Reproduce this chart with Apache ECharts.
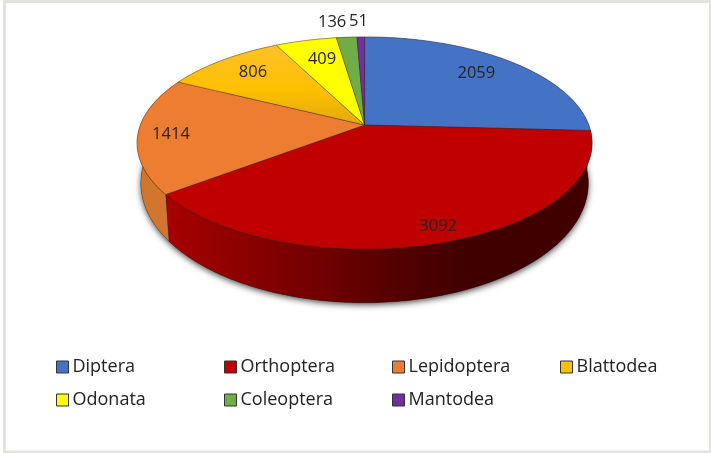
<!DOCTYPE html>
<html>
<head>
<meta charset="utf-8">
<style>
  html, body { margin: 0; padding: 0; background: #fff; }
  #main { width: 711px; height: 453px; }
</style>
</head>
<body>
<div id="main"></div>
<script src="https://cdn.jsdelivr.net/npm/echarts@6/dist/echarts.min.js"></script>
<script>
const categories = ["Diptera", "Orthoptera", "Lepidoptera", "Blattodea", "Odonata", "Coleoptera", "Mantodea"];
const counts = [2059, 3092, 1414, 806, 409, 136, 51];

const colors = ["#4472c4", "#c00000", "#ed7d31", "#ffc000", "#ffff00", "#70ad47", "#7030a0"];
// legend is laid out in 4 columns, each one its own legend
const legendColumns = [[0, 4], [1, 5], [2, 6], [3]];
const legendLeft = [56, 224, 392, 560];
// label placement: radius factor and angle shift from the slice middle
const labelRadius = [0.77, 0.89, 0.855, 0.78, 0.75, 1.21, 1.21];
const labelShift = [-1.5, -1.3, -0.9, 0.8, 1.2, -2.9, -0.4];

const total = counts.reduce((a, b) => a + b, 0);
const cx = 364.6, topY = 125, bottomY = 163;
const rx = 224.2, rxBottom = 220.5, ryTop = 103, ryBottom = 116, persp = 0.17;

// pie plane -> screen, front of the pie is closer so it gets bigger
function project(r, deg, lower) {
  const a = deg * Math.PI / 180;
  const u = r * Math.sin(a), v = -r * Math.cos(a);
  const d = 1 - persp * v;
  return [
    cx + (lower ? rxBottom : rx) * u / d,
    (lower ? bottomY : topY) + (lower ? ryBottom : ryTop) * v / d
  ];
}

function arc(start, end, lower) {
  const pts = [];
  const n = Math.max(2, Math.ceil(end - start));
  for (let i = 0; i <= n; i++) {
    pts.push(project(1, start + (end - start) * i / n, lower));
  }
  return pts;
}

function topFill(i) {
  if (i === 3) {
    return new echarts.graphic.LinearGradient(0, 0, 0, 1, [
      { offset: 0, color: "#fdc12a" },
      { offset: 0.55, color: "#ffc000" },
      { offset: 1, color: "#e2a90e" }
    ]);
  }
  return colors[i];
}

function wallFill(i) {
  if (i === 1) {
    return new echarts.graphic.LinearGradient(0, 0, 1, 0, [
      { offset: 0, color: "#a80000" },
      { offset: 0.25, color: "#820000" },
      { offset: 0.6, color: "#4c0000" },
      { offset: 0.72, color: "#400000" },
      { offset: 1, color: "#400000" }
    ]);
  }
  if (i === 2) return "#d2752f";
  return echarts.color.lift(colors[i], -0.3);
}

function renderSlice(i) {
  return function (params, api) {
    const value = api.value(0);
    const before = counts.slice(0, i).reduce((a, b) => a + b, 0);
    const start = before / total * 360;
    const end = start + value / total * 360;
    const topArc = arc(start, end, false);
    const lowArc = arc(start, end, true).reverse();
    const mid = (start + end) / 2 + labelShift[i];
    const spot = project(labelRadius[i], mid, false);
    return {
      type: "group",
      children: [
        {
          type: "polygon",
          z2: 1,
          shape: { points: topArc.concat(lowArc) },
          style: { fill: wallFill(i), stroke: "rgba(40,20,10,0.55)", lineWidth: 0.5 }
        },
        {
          type: "polygon",
          z2: 2,
          shape: { points: [project(0, 0, false)].concat(topArc) },
          style: { fill: topFill(i), stroke: "rgba(50,30,10,0.6)", lineWidth: 0.6 }
        },
        {
          type: "text",
          z2: 3,
          x: spot[0],
          y: spot[1],
          style: {
            text: String(value),
            font: "16.5px 'Open Sans'",
            fill: "#2a2222",
            align: "center",
            verticalAlign: "middle"
          }
        }
      ]
    };
  };
}

const sliceSeries = categories.map((name, i) => ({
  name: name,
  type: "custom",
  coordinateSystem: "none",
  silent: true,
  z: 3,
  itemStyle: { color: colors[i] },
  data: [[counts[i]]],
  renderItem: renderSlice(i)
}));

// soft shadow under the whole pie
const shadowSeries = {
  name: "shadow",
  type: "custom",
  coordinateSystem: "none",
  silent: true,
  z: 2,
  data: [[total]],
  renderItem: function () {
    return {
      type: "polygon",
      shape: { points: arc(0, 360, true) },
      style: {
        fill: "#444",
        shadowColor: "rgba(0,0,0,0.7)",
        shadowBlur: 6,
        shadowOffsetX: 0,
        shadowOffsetY: 2
      }
    };
  }
};

const legends = legendColumns.map((col, c) => ({
  orient: "vertical",
  left: legendLeft[c],
  top: 358,
  padding: 0,
  align: "left",
  icon: "rect",
  itemWidth: 12,
  itemHeight: 12,
  itemGap: 15,
  selectedMode: false,
  textStyle: { fontFamily: "Open Sans", fontSize: 18, color: "#222", padding: [0, 0, 0, -1] },
  data: col.map(i => ({
    name: categories[i],
    itemStyle: { color: colors[i], borderColor: "#333", borderWidth: 1 }
  }))
}));

const chartInstance = echarts.init(document.getElementById("main"), null, { renderer: "canvas" });
chartInstance.setOption({
  animation: false,
  backgroundColor: "#fff",
  tooltip: { show: false },
  legend: legends,
  graphic: [{
    type: "rect",
    silent: true,
    shape: { x: 4.5, y: 1.5, width: 706, height: 450.5 },
    style: { fill: "none", stroke: "#e3e3de", lineWidth: 3 }
  }],
  series: [shadowSeries].concat(sliceSeries)
});
</script>
</body>
</html>
